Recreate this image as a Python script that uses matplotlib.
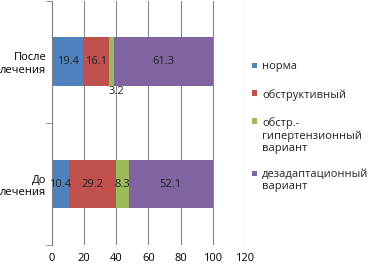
import matplotlib.pyplot as plt
from matplotlib.patches import Rectangle

plt.rcParams['font.family'] = ['Open Sans', 'DejaVu Sans']

groups = ["До\nлечения", "После\nлечения"]
series = ["норма", "обструктивный", "обстр.-\nгипертензионный\nвариант",
          "дезадаптационный\nвариант"]
values = [
    [10.4, 19.4],
    [29.2, 16.1],
    [8.3, 3.2],
    [52.1, 61.3],
]
colors = ["#4F81BD", "#C0504D", "#9BBB59", "#8064A2"]

W, H = 371, 267
fig = plt.figure(figsize=(W / 100, H / 100), dpi=100)
ax = fig.add_axes([0.140, 0.082, 0.520, 0.915])

ypos = range(len(groups))
left = [0.0] * len(groups)
for vals, col in zip(values, colors):
    bars = ax.barh(ypos, vals, left=left, height=0.4, color=col, zorder=2)
    for i, (b, v) in enumerate(zip(bars, vals)):
        cx = left[i] + v / 2
        if v < 5:
            # small segment: label sits under the bar
            ax.text(cx + 3, i - 0.24, f"{v}", ha="center", va="center",
                    fontsize=8, color="#222222")
        else:
            ax.text(cx, i, f"{v}", ha="center", va="center",
                    fontsize=8, color="#222222", zorder=3)
    left = [l + v for l, v in zip(left, vals)]

ax.set_xlim(0, 120)
ax.set_ylim(-0.5, 1.5)
ax.set_xticks(range(0, 121, 20))
ax.set_yticks(list(ypos))
ax.set_yticklabels(groups, fontsize=8, ha="right")
ax.set_yticks([-0.5, 0.5, 1.5], minor=True)
ax.tick_params(axis="y", which="major", length=0, pad=4)
ax.tick_params(axis="y", which="minor", length=4, color="#808080")
ax.tick_params(axis="x", length=0, labelsize=8, pad=6)
ax.grid(axis="x", color="#888888", linewidth=0.8, zorder=0)
for s in ["top", "right", "bottom"]:
    ax.spines[s].set_visible(False)
ax.spines["left"].set_color("#808080")

# legend drawn by hand so the square lines up with the first text line
first_line_y = [65, 93, 121, 173]
for name, col, py in zip(series, colors, first_line_y):
    fig.patches.append(Rectangle((252 / W, 1 - (py + 2.5) / H), 5 / W, 5 / H,
                                 transform=fig.transFigure, facecolor=col,
                                 edgecolor="none"))
    fig.text(262 / W, 1 - (py - 4) / H, name, ha="left", va="top",
             fontsize=8, color="#222222", linespacing=1.15)

fig.savefig("out.png", dpi=100)
